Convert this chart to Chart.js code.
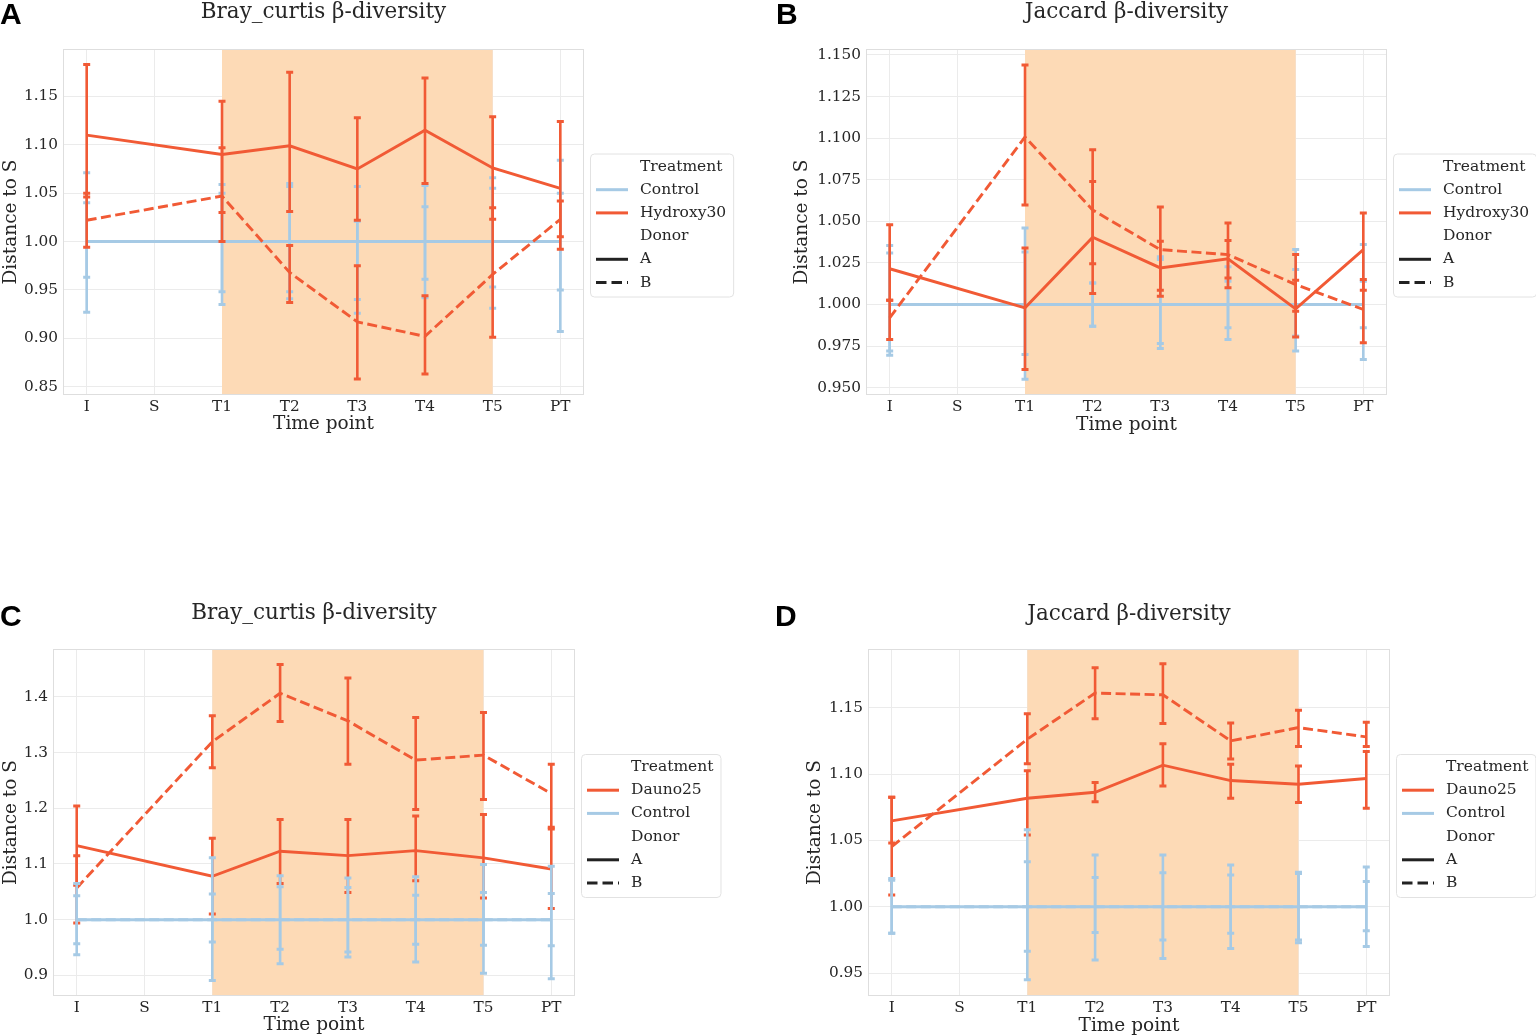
<!DOCTYPE html>
<html>
<head>
<meta charset="utf-8">
<script src="https://cdn.jsdelivr.net/npm/chart.js@4.4.1/dist/chart.umd.min.js"></script>
<style>
  html, body { margin: 0; padding: 0; background: #ffffff; }
  body { width: 1536px; height: 1036px; position: relative; overflow: hidden; }
  .panel { position: absolute; }
</style>
</head>
<body>
<div class="panel" style="left:0px;top:0px;"><canvas id="cA" width="740" height="440"></canvas></div>
<div class="panel" style="left:770px;top:0px;"><canvas id="cB" width="766" height="440"></canvas></div>
<div class="panel" style="left:0px;top:600px;"><canvas id="cC" width="740" height="440"></canvas></div>
<div class="panel" style="left:770px;top:600px;"><canvas id="cD" width="766" height="440"></canvas></div>
<script>
// ---------------- DATA ----------------
const timeLabels = ['I', 'S', 'T1', 'T2', 'T3', 'T4', 'T5', 'PT'];
const shadeFrom = 'T1';
const shadeTo = 'T5';
const donors = ['A', 'B'];
const treatAB = ['Control', 'Hydroxy30'];
const treatCD = ['Dauno25', 'Control'];
const legendHeaders = ['Treatment', 'Donor'];

const controlMean = [1.000, null, 1.000, 1.000, 1.000, 1.000, 1.000, 1.000];

// Panel A: Bray_curtis, Hydroxy30
const aHydA    = [1.110, null, 1.090, 1.099, 1.075, 1.115, 1.076, 1.055];
const aHydAErr = [[1.046, 1.183], null, [1.030, 1.145], [1.031, 1.175], [1.022, 1.128], [1.060, 1.169], [1.023, 1.129], [0.992, 1.124]];
const aHydB    = [1.022, null, 1.047, 0.968, 0.917, 0.902, 0.966, 1.023];
const aHydBErr = [[0.994, 1.050], null, [1.000, 1.097], [0.937, 0.996], [0.858, 0.975], [0.863, 0.944], [0.901, 1.035], [1.005, 1.042]];
const aCtlAErr = [[0.927, 1.071], null, [0.935, 1.059], [0.941, 1.060], [0.926, 1.057], [0.942, 1.058], [0.931, 1.066], [0.907, 1.084]];
const aCtlBErr = [[0.963, 1.040], null, [0.948, 1.050], [0.948, 1.057], [0.940, 1.021], [0.961, 1.036], [0.953, 1.055], [0.950, 1.050]];
const aTicks = [0.85, 0.90, 0.95, 1.00, 1.05, 1.10, 1.15];

// Panel B: Jaccard, Hydroxy30
const bHydA    = [1.0215, null, 0.998, 1.0405, 1.022, 1.0275, 0.9974, 1.033];
const bHydAErr = [[1.0026, 1.048], null, [0.961, 1.034], [1.0066, 1.074], [1.005, 1.038], [1.016, 1.0385], [0.9805, 1.0146], [1.0086, 1.055]];
const bHydB    = [0.992, null, 1.1007, 1.0568, 1.033, 1.030, 1.012, 0.997];
const bHydBErr = [[0.979, 1.0026], null, [1.0598, 1.144], [1.0245, 1.093], [1.0086, 1.0586], [1.010, 1.049], [0.996, 1.030], [0.977, 1.015]];
const bCtlAErr = [[0.9695, 1.0355], null, [0.955, 1.046], [0.987, 1.013], [0.9735, 1.0287], [0.979, 1.0227], [0.972, 1.033], [0.967, 1.036]];
const bCtlBErr = [[0.972, 1.031], null, [0.970, 1.0315], [0.987, 1.013], [0.9765, 1.027], [0.986, 1.014], [0.981, 1.021], [0.986, 1.014]];
const bTicks = [0.950, 0.975, 1.000, 1.025, 1.050, 1.075, 1.100, 1.125, 1.150];

// Panel C: Bray_curtis, Dauno25
const cDauA    = [1.133, null, 1.078, 1.123, 1.115, 1.124, 1.111, 1.091];
const cDauAErr = [[1.062, 1.204], null, [1.010, 1.146], [1.065, 1.180], [1.049, 1.180], [1.070, 1.186], [1.039, 1.189], [1.020, 1.163]];
const cDauB    = [1.057, null, 1.3195, 1.4066, 1.357, 1.2865, 1.2955, 1.2264];
const cDauBErr = [[0.994, 1.115], null, [1.273, 1.366], [1.356, 1.458], [1.279, 1.434], [1.198, 1.363], [1.2156, 1.372], [1.166, 1.279]];
const cCtlAErr = [[0.937, 1.065], null, [0.891, 1.111], [0.921, 1.079], [0.933, 1.075], [0.924, 1.077], [0.904, 1.099], [0.894, 1.096]];
const cCtlBErr = [[0.957, 1.043], null, [0.960, 1.046], [0.947, 1.059], [0.942, 1.058], [0.956, 1.044], [0.954, 1.049], [0.953, 1.047]];
const cTicks = [0.9, 1.0, 1.1, 1.2, 1.3, 1.4];

// Panel D: Jaccard, Dauno25
const dDauA    = [1.0647, null, 1.0818, 1.0863, 1.1067, 1.0951, 1.0923, 1.0966];
const dDauAErr = [[1.048, 1.0825], null, [1.054, 1.1024], [1.0792, 1.0936], [1.091, 1.1228], [1.0818, 1.1074], [1.0785, 1.106], [1.0742, 1.117]];
const dDauB    = [1.0453, null, 1.1263, 1.161, 1.1597, 1.125, 1.135, 1.128];
const dDauBErr = [[1.0088, 1.0825], null, [1.1077, 1.1454], [1.1416, 1.180], [1.138, 1.183], [1.1114, 1.1384], [1.1208, 1.148], [1.1208, 1.139]];
const dCtlAErr = [[0.980, 1.0214], null, [0.945, 1.058], [0.960, 1.039], [0.961, 1.039], [0.9686, 1.0314], [0.973, 1.026], [0.970, 1.030]];
const dCtlBErr = [[0.980, 1.020], null, [0.9665, 1.034], [0.9806, 1.022], [0.975, 1.0257], [0.980, 1.024], [0.975, 1.025], [0.982, 1.019]];
const dTicks = [0.95, 1.00, 1.05, 1.10, 1.15];

// ---------------- STYLE ----------------
const RED = '#f15a35';
const BLUE = '#a6cae5';
const SHADE = '#fddab6';
const TEXT = '#262626';
const GRID = '#ebebeb';
const FRAME = '#dedede';
const SERIF = '"DejaVu Serif", serif';

const colorOf = { Control: BLUE, Hydroxy30: RED, Dauno25: RED };

function toXY(arr) {
  const out = [];
  arr.forEach((v, i) => { if (v !== null) out.push({ x: i, y: v }); });
  return out;
}

function lineDs(label, values, errs, color, dashed) {
  return {
    label: label,
    data: toXY(values),
    borderColor: color,
    backgroundColor: color,
    borderWidth: 2.9,
    borderDash: dashed ? [10, 4.5] : [],
    pointRadius: 0,
    pointHoverRadius: 0,
    spanGaps: true,
    tension: 0,
    errorBars: errs
  };
}

const decorPlugin = {
  id: 'decor',
  beforeDatasetsDraw(chart) {
    const o = chart.options.plugins.decor;
    const { ctx, chartArea: ca, scales: { x } } = chart;
    const x0 = x.getPixelForValue(timeLabels.indexOf(o.shadeFrom));
    const x1 = x.getPixelForValue(timeLabels.indexOf(o.shadeTo));
    ctx.save();
    ctx.fillStyle = SHADE;
    ctx.fillRect(x0, ca.top, x1 - x0, ca.bottom - ca.top);
    ctx.restore();
  },
  afterDatasetDraw(chart, args) {
    const ds = chart.data.datasets[args.index];
    if (!ds.errorBars) return;
    const { ctx, scales: { x, y } } = chart;
    ctx.save();
    ctx.strokeStyle = ds.borderColor;
    ctx.setLineDash([]);
    ctx.lineCap = 'butt';
    ds.errorBars.forEach((e, i) => {
      if (!e) return;
      const px = x.getPixelForValue(i);
      const lo = y.getPixelForValue(e[0]);
      const hi = y.getPixelForValue(e[1]);
      ctx.lineWidth = 2.6;
      ctx.beginPath();
      ctx.moveTo(px, lo);
      ctx.lineTo(px, hi);
      ctx.stroke();
      ctx.lineWidth = 3;
      ctx.beginPath();
      ctx.moveTo(px - 3.5, lo); ctx.lineTo(px + 3.5, lo);
      ctx.moveTo(px - 3.5, hi); ctx.lineTo(px + 3.5, hi);
      ctx.stroke();
    });
    ctx.restore();
  },
  afterDraw(chart) {
    const o = chart.options.plugins.decor;
    const { ctx, chartArea: ca } = chart;
    ctx.save();
    // frame
    ctx.strokeStyle = FRAME;
    ctx.lineWidth = 1;
    ctx.setLineDash([]);
    ctx.strokeRect(ca.left + 0.5, ca.top + 0.5, ca.right - ca.left - 1, ca.bottom - ca.top - 1);
    // title
    ctx.fillStyle = TEXT;
    ctx.font = '21.5px ' + SERIF;
    ctx.textAlign = 'center';
    ctx.textBaseline = 'middle';
    ctx.fillText(o.title, (ca.left + ca.right) / 2, o.titleY);
    // panel letter
    ctx.fillStyle = '#000000';
    ctx.font = 'bold 30px "Liberation Sans", Arial, sans-serif';
    ctx.textAlign = 'left';
    ctx.textBaseline = 'alphabetic';
    ctx.fillText(o.letter, o.letterX, o.letterY);
    // legend
    const rows = [];
    rows.push({ text: legendHeaders[0] });
    o.treatments.forEach(t => rows.push({ text: t, color: colorOf[t], dash: [] }));
    rows.push({ text: legendHeaders[1] });
    donors.forEach((d, k) => rows.push({ text: d, color: '#222222', dash: k === 0 ? [] : [10.5, 5] }));
    ctx.font = '15.5px ' + SERIF;
    let maxW = 0;
    rows.forEach(r => { maxW = Math.max(maxW, ctx.measureText(r.text).width); });
    const rowH = 23.2;
    const h = 143;
    const w = 50 + maxW + 7;
    const lx = ca.right + 6;
    const ly = (ca.top + ca.bottom) / 2 - h / 2 + 3;
    ctx.beginPath();
    ctx.roundRect(lx + 0.5, ly + 0.5, w, h, 4);
    ctx.fillStyle = 'rgba(255,255,255,0.85)';
    ctx.fill();
    ctx.strokeStyle = '#e2e2e2';
    ctx.lineWidth = 1;
    ctx.stroke();
    rows.forEach((r, k) => {
      const cy = ly + 13 + k * rowH;
      if (r.color) {
        ctx.strokeStyle = r.color;
        ctx.lineWidth = 3;
        ctx.setLineDash(r.dash);
        ctx.beginPath();
        ctx.moveTo(lx + 6, cy);
        ctx.lineTo(lx + 38, cy);
        ctx.stroke();
        ctx.setLineDash([]);
      }
      ctx.fillStyle = TEXT;
      ctx.textAlign = 'left';
      ctx.textBaseline = 'middle';
      ctx.fillText(r.text, lx + 50, cy);
    });
    ctx.restore();
  }
};

function makePanel(id, p) {
  new Chart(document.getElementById(id), {
    type: 'line',
    data: { datasets: p.datasets },
    plugins: [decorPlugin],
    options: {
      responsive: false,
      animation: false,
      events: [],
      layout: { padding: p.padding },
      plugins: {
        legend: { display: false },
        title: { display: false },
        tooltip: { enabled: false },
        decor: {
          title: p.title, titleY: p.titleY,
          letter: p.letter, letterX: p.letterX, letterY: p.letterY,
          treatments: p.treatments,
          shadeFrom: shadeFrom, shadeTo: shadeTo
        }
      },
      scales: {
        x: {
          type: 'linear',
          min: -0.35,
          max: timeLabels.length - 1 + 0.35,
          afterBuildTicks: s => { s.ticks = timeLabels.map((_, i) => ({ value: i })); },
          afterFit: s => { s.height = p.xHeight; },
          ticks: {
            autoSkip: false,
            maxRotation: 0,
            padding: 3,
            color: TEXT,
            font: { family: SERIF, size: 15.3 },
            callback: v => timeLabels[v]
          },
          grid: { color: GRID, drawTicks: false, lineWidth: 1 },
          border: { display: false },
          title: {
            display: true, text: 'Time point', color: TEXT,
            font: { family: SERIF, size: 18.5 },
            padding: { top: 0, bottom: p.xTitlePad }
          }
        },
        y: {
          type: 'linear',
          min: p.yMin,
          max: p.yMax,
          afterBuildTicks: s => { s.ticks = p.ticks.map(v => ({ value: v })); },
          afterFit: s => { s.width = p.yWidth; },
          ticks: {
            padding: 5,
            color: TEXT,
            font: { family: SERIF, size: 15.3 },
            callback: v => Number(v).toFixed(p.dec)
          },
          grid: { color: GRID, drawTicks: false, lineWidth: 1 },
          border: { display: false },
          title: {
            display: true, text: 'Distance to S', color: TEXT,
            font: { family: SERIF, size: 18.5 },
            padding: { top: 0, bottom: 0 }
          }
        }
      }
    }
  });
}

// Panel A
makePanel('cA', {
  title: 'Bray_curtis \u03B2-diversity', titleY: 12, letter: 'A', letterX: 0, letterY: 24,
  treatments: treatAB,
  datasets: [
    lineDs('Hydroxy30 B', aHydB, aHydBErr, RED, true),
    lineDs('Hydroxy30 A', aHydA, aHydAErr, RED, false),
    lineDs('Control B', controlMean, aCtlBErr, BLUE, true),
    lineDs('Control A', controlMean, aCtlAErr, BLUE, false)
  ],
  padding: { left: 0, top: 49, right: 156, bottom: 0 },
  yWidth: 63, xHeight: 45, xTitlePad: 5,
  yMin: 0.8414, yMax: 1.199, ticks: aTicks, dec: 2
});

// Panel B
makePanel('cB', {
  title: 'Jaccard \u03B2-diversity', titleY: 12, letter: 'B', letterX: 6, letterY: 24,
  treatments: treatAB,
  datasets: [
    lineDs('Hydroxy30 B', bHydB, bHydBErr, RED, true),
    lineDs('Hydroxy30 A', bHydA, bHydAErr, RED, false),
    lineDs('Control B', controlMean, bCtlBErr, BLUE, true),
    lineDs('Control A', controlMean, bCtlAErr, BLUE, false)
  ],
  padding: { left: 21, top: 49, right: 149, bottom: 0 },
  yWidth: 75, xHeight: 45, xTitlePad: 4,
  yMin: 0.9456, yMax: 1.1536, ticks: bTicks, dec: 3
});

// Panel C
makePanel('cC', {
  title: 'Bray_curtis \u03B2-diversity', titleY: 13, letter: 'C', letterX: 0, letterY: 26,
  treatments: treatCD,
  datasets: [
    lineDs('Control B', controlMean, cCtlBErr, BLUE, true),
    lineDs('Control A', controlMean, cCtlAErr, BLUE, false),
    lineDs('Dauno25 B', cDauB, cDauBErr, RED, true),
    lineDs('Dauno25 A', cDauA, cDauAErr, RED, false)
  ],
  padding: { left: 0, top: 49, right: 165, bottom: 0 },
  yWidth: 53, xHeight: 44, xTitlePad: 4,
  yMin: 0.863, yMax: 1.486, ticks: cTicks, dec: 1
});

// Panel D
makePanel('cD', {
  title: 'Jaccard \u03B2-diversity', titleY: 14, letter: 'D', letterX: 5, letterY: 26,
  treatments: treatCD,
  datasets: [
    lineDs('Control B', controlMean, dCtlBErr, BLUE, true),
    lineDs('Control A', controlMean, dCtlAErr, BLUE, false),
    lineDs('Dauno25 B', dDauB, dDauBErr, RED, true),
    lineDs('Dauno25 A', dDauA, dDauAErr, RED, false)
  ],
  padding: { left: 34, top: 49, right: 146, bottom: 0 },
  yWidth: 64, xHeight: 44, xTitlePad: 3,
  yMin: 0.9328, yMax: 1.1942, ticks: dTicks, dec: 2
});
</script>
</body>
</html>
